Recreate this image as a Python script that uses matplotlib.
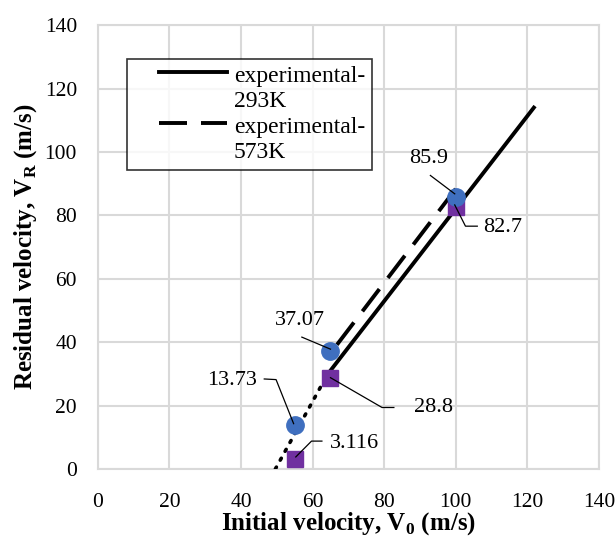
import numpy as np
import matplotlib
matplotlib.use("Agg")
import matplotlib.pyplot as plt
from matplotlib.legend_handler import HandlerLine2D

plt.rcParams['font.family'] = ['Liberation Serif', 'DejaVu Serif']
plt.rcParams['mathtext.fontset'] = 'custom'
plt.rcParams['mathtext.rm'] = 'Liberation Serif'
plt.rcParams['mathtext.bf'] = 'Liberation Serif:bold'

# measured points
v0 = [55, 65, 100]
vr_293 = [13.73, 37.07, 85.9]
vr_573 = [3.116, 28.8, 82.7]

# trend lines (end points)
solid_x = [65.1, 121.8]
solid_y = [31.2, 114.0]
dash_x = [66.8, 101.3]
dash_y = [39.2, 90.3]
dot_x = [49.6, 64.0]
dot_y = [0.0, 29.5]

# data labels: text, text position, leader path
lbl_text = ['13.73', '37.07', '85.9', '82.7', '28.8', '3.116']
lbl_pos = [(37.6, 27.9), (56.4, 46.7), (92.5, 97.9), (113.2, 76.3), (93.7, 19.3), (71.6, 8.2)]
lbl_path = [
    [(46.5, 28.4), (49.8, 28.2), (54.7, 14.3)],
    [(57.0, 41.6), (65.0, 37.8)],
    [(92.9, 92.6), (99.7, 86.8)],
    [(106.0, 76.6), (102.7, 76.6), (99.7, 83.3)],
    [(82.7, 19.4), (79.4, 19.4), (65.0, 28.8)],
    [(62.6, 8.8), (59.7, 8.8), (55.3, 3.8)],
]


class ExcelLine(HandlerLine2D):
    # legend line indented from the frame and sitting on the first text line
    def create_artists(self, legend, orig_handle, xdescent, ydescent, width, height, fontsize, trans):
        arts = super().create_artists(legend, orig_handle, xdescent, ydescent, width, height, fontsize, trans)
        x0 = 1.06 * fontsize
        for a in arts:
            yd = np.asarray(a.get_ydata(), dtype=float)
            xd = np.asarray(a.get_xdata(), dtype=float)
            a.set_xdata(np.linspace(x0, xd.max(), len(xd)))
            a.set_ydata(yd + 0.7 * fontsize)
        return arts


fig = plt.figure(figsize=(6.15, 5.36), dpi=100)
ax = fig.add_axes([0.159, 0.125, 0.815, 0.828])

ax.plot(dot_x, dot_y, color='black', lw=2.6, ls=(0, (0.6, 2.2)), dash_capstyle='round', zorder=3)
ax.plot(solid_x, solid_y, color='black', lw=2.8, label='experimental-\n293K', zorder=3)
ax.plot(dash_x, dash_y, color='black', lw=2.8, ls=(0, (7.2, 3.6)), label='experimental-\n573K', zorder=3)

ax.plot(v0, vr_573, 's', color='#7030A0', ms=12, zorder=4)
ax.plot(v0, vr_293, 'o', color='#3F6FBF', ms=12.5, zorder=5)

for t, (tx, ty), path in zip(lbl_text, lbl_pos, lbl_path):
    px = [p[0] for p in path]
    py = [p[1] for p in path]
    ax.plot(px, py, color='black', lw=0.9, zorder=6)
    ax.text(tx, ty, t, fontsize=16, ha='center', va='center', zorder=7)

ax.set_xlim(0, 140)
ax.set_ylim(0, 140)
ax.set_xticks(np.arange(0, 141, 20))
ax.set_yticks(np.arange(0, 141, 20))
ax.grid(True, color='#D9D9D9', lw=1.5, zorder=0)
ax.set_axisbelow(True)
for s in ax.spines.values():
    s.set_color('#D9D9D9')
    s.set_linewidth(1.5)
ax.tick_params(length=0, labelsize=15.5)
ax.tick_params(axis='y', pad=15)
ax.tick_params(axis='x', pad=17)

ax.set_xlabel(r'Initial velocity, V$_\mathbf{0}$ (m/s)', fontsize=18, fontweight='bold', labelpad=-1)
ax.set_ylabel(r'Residual velocity, V$_\mathbf{R}$ (m/s)', fontsize=18, fontweight='bold', labelpad=4)

leg = ax.legend(loc='upper left', bbox_to_anchor=(0.058, 0.923), fontsize=17, frameon=True,
                fancybox=False, handlelength=3.94, handletextpad=0.3, labelspacing=0.22,
                borderpad=0.3, borderaxespad=0,
                handler_map={matplotlib.lines.Line2D: ExcelLine()})
for t in leg.get_texts():
    t.set_linespacing(1.22)
leg.get_frame().set_edgecolor('black')
leg.get_frame().set_linewidth(1.2)

fig.savefig('out.png', dpi=100)
